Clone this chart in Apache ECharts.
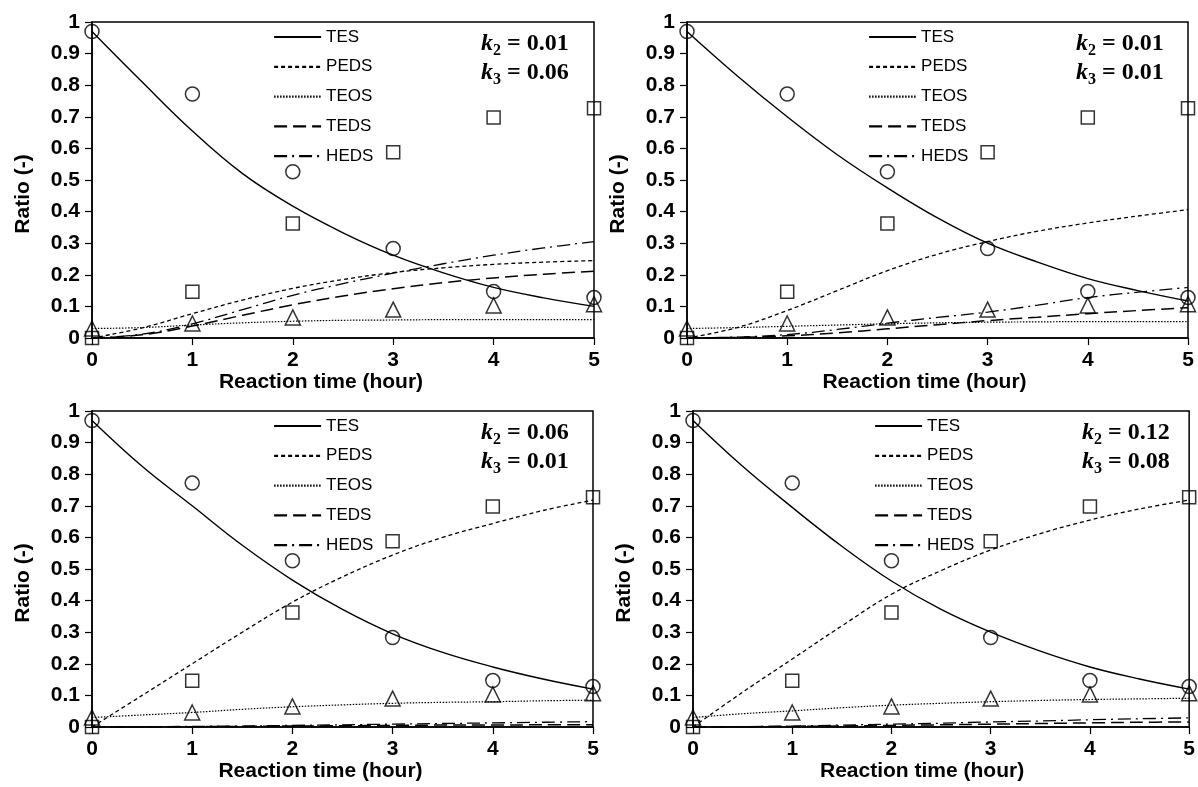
<!DOCTYPE html>
<html><head><meta charset="utf-8">
<script src="https://cdn.jsdelivr.net/npm/echarts@6/dist/echarts.min.js"></script>
<style>html,body{margin:0;padding:0;background:#fff}#c{width:1198px;height:787px}</style>
</head><body><div id="c"></div>
<script>
// ---- Data ----
const hours = [0, 1, 2, 3, 4, 5];
const tesExp  = [0.97, 0.772, 0.526, 0.283, 0.147, 0.128];
const pedsExp = [0.0, 0.146, 0.362, 0.588, 0.698, 0.727];
const teosExp = [0.03, 0.046, 0.065, 0.09, 0.103, 0.107];

const modelTime = [0, 0.5, 1, 1.5, 2, 2.5, 3, 3.5, 4, 4.5, 5];

const seriesNames = ['TES', 'PEDS', 'TEOS', 'TEDS', 'HEDS'];
const k2Labels = ['0.01', '0.01', '0.06', '0.12'];
const k3Labels = ['0.06', '0.01', '0.01', '0.08'];

// Panel 1: k2=0.01, k3=0.06
const p1TES  = [0.97, 0.81, 0.655, 0.52, 0.417, 0.333, 0.262, 0.206, 0.16, 0.127, 0.10];
const p1PEDS = [0, 0.032, 0.077, 0.12, 0.157, 0.185, 0.207, 0.222, 0.233, 0.24, 0.245];
const p1TEOS = [0.03, 0.033, 0.041, 0.048, 0.053, 0.056, 0.057, 0.058, 0.058, 0.058, 0.058];
const p1TEDS = [0, 0.01, 0.038, 0.072, 0.105, 0.133, 0.156, 0.175, 0.19, 0.202, 0.211];
const p1HEDS = [0, 0.012, 0.045, 0.09, 0.135, 0.172, 0.205, 0.235, 0.262, 0.285, 0.305];

// Panel 2: k2=0.01, k3=0.01
const p2TES  = [0.97, 0.83, 0.70, 0.58, 0.475, 0.38, 0.30, 0.24, 0.188, 0.15, 0.117];
const p2PEDS = [0, 0.033, 0.087, 0.15, 0.213, 0.265, 0.305, 0.338, 0.364, 0.386, 0.406];
const p2TEOS = [0.03, 0.033, 0.037, 0.041, 0.045, 0.048, 0.05, 0.051, 0.052, 0.052, 0.052];
const p2TEDS = [0, 0.002, 0.007, 0.016, 0.029, 0.042, 0.055, 0.066, 0.077, 0.087, 0.096];
const p2HEDS = [0, 0.003, 0.011, 0.027, 0.047, 0.065, 0.082, 0.104, 0.128, 0.145, 0.16];

// Panel 3: k2=0.06, k3=0.01
const p3TES  = [0.97, 0.825, 0.70, 0.575, 0.465, 0.372, 0.295, 0.236, 0.19, 0.152, 0.12];
const p3PEDS = [0, 0.10, 0.20, 0.30, 0.395, 0.475, 0.544, 0.60, 0.644, 0.685, 0.718];
const p3TEOS = [0.03, 0.038, 0.046, 0.056, 0.064, 0.07, 0.075, 0.078, 0.08, 0.083, 0.085];
const p3TEDS = [0, 0, 0.001, 0.002, 0.003, 0.004, 0.005, 0.006, 0.006, 0.007, 0.007];
const p3HEDS = [0, 0.001, 0.002, 0.003, 0.005, 0.007, 0.009, 0.011, 0.013, 0.015, 0.017];

// Panel 4: k2=0.12, k3=0.08
const p4TES  = [0.97, 0.825, 0.695, 0.572, 0.462, 0.372, 0.30, 0.24, 0.19, 0.152, 0.12];
const p4PEDS = [0, 0.11, 0.215, 0.32, 0.42, 0.495, 0.56, 0.612, 0.655, 0.69, 0.718];
const p4TEOS = [0.03, 0.042, 0.051, 0.061, 0.069, 0.075, 0.08, 0.084, 0.087, 0.089, 0.091];
const p4TEDS = [0, 0.001, 0.002, 0.003, 0.005, 0.007, 0.009, 0.011, 0.013, 0.015, 0.016];
const p4HEDS = [0, 0.001, 0.003, 0.006, 0.009, 0.012, 0.016, 0.019, 0.023, 0.026, 0.029];

const panels = [
  [p1TES, p1PEDS, p1TEOS, p1TEDS, p1HEDS],
  [p2TES, p2PEDS, p2TEOS, p2TEDS, p2HEDS],
  [p3TES, p3PEDS, p3TEOS, p3TEDS, p3HEDS],
  [p4TES, p4PEDS, p4TEOS, p4TEDS, p4HEDS]
];

// ---- Layout / styles ----
const grids = [
  {left: 92,  top: 22,  width: 502, height: 316},
  {left: 687, top: 22,  width: 501, height: 316},
  {left: 92,  top: 411, width: 501, height: 316},
  {left: 693, top: 411, width: 500, height: 316}
];
const xNamePad = [[0, 44, 0, 0], [0, 26, 0, 0], [0, 44, 0, 0], [0, 38, 0, 0]];
const lineStyles = [
  {type: 'solid', width: 1.4},
  {type: [4, 3], width: 1.3},
  {type: [1.5, 1.5], width: 1.2},
  {type: [13, 6], width: 1.5},
  {type: [13, 5, 2, 5], width: 1.3}
];
const SANS = 'Liberation Sans, Arial, sans-serif';
const SERIF = 'Liberation Serif, Times New Roman, serif';

const xAxes = [], yAxes = [], series = [], legends = [], graphics = [];
grids.forEach((g, i) => {
  xAxes.push({
    type: 'value', gridIndex: i, min: 0, max: 5, interval: 1,
    name: 'Reaction time (hour)', nameLocation: 'middle', nameGap: 27,
    nameTextStyle: {fontFamily: SANS, fontWeight: 'bold', fontSize: 21, color: '#000', padding: xNamePad[i]},
    axisLine: {lineStyle: {color: '#000', width: 1.5}},
    axisTick: {show: true, inside: false, length: 7, lineStyle: {color: '#000', width: 1.2}},
    axisLabel: {fontFamily: SANS, fontWeight: 'bold', fontSize: 21, color: '#000', margin: 12},
    splitLine: {show: false}
  });
  yAxes.push({
    type: 'value', gridIndex: i, min: 0, max: 1, interval: 0.1,
    name: 'Ratio (-)', nameLocation: 'middle', nameGap: 58, nameRotate: 90,
    nameTextStyle: {fontFamily: SANS, fontWeight: 'bold', fontSize: 21, color: '#000', padding: [0, 28, 0, 0]},
    axisLine: {show: true, lineStyle: {color: '#000', width: 1.5}},
    axisTick: {show: true, inside: false, length: 7, lineStyle: {color: '#000', width: 1.2}},
    axisLabel: {fontFamily: SANS, fontWeight: 'bold', fontSize: 21, color: '#000', margin: 12},
    splitLine: {show: false}
  });
  panels[i].forEach((vals, j) => {
    series.push({
      name: seriesNames[j], type: 'line', xAxisIndex: i, yAxisIndex: i,
      data: modelTime.map((t, k) => [t, vals[k]]),
      smooth: 0.4, symbol: 'none', silent: true,
      lineStyle: Object.assign({color: '#000'}, lineStyles[j]),
      itemStyle: {color: '#000'}, z: 2
    });
  });
  const mk = [['TES exp', tesExp, 'circle', 14], ['PEDS exp', pedsExp, 'rect', 13], ['TEOS exp', teosExp, 'triangle', 15]];
  mk.forEach(m => {
    series.push({
      name: m[0], type: 'scatter', xAxisIndex: i, yAxisIndex: i,
      data: hours.map((h, k) => [h, m[1][k]]),
      symbol: m[2], symbolSize: m[3], silent: true,
      itemStyle: {color: 'rgba(255,255,255,0)', borderColor: '#000', borderWidth: 1.5}, z: 3
    });
  });
  legends.push({
    data: seriesNames, orient: 'vertical', left: g.left + 176, top: g.top + 1,
    itemWidth: 47, itemHeight: 14, itemGap: 11.8, selectedMode: false,
    itemStyle: {color: 'rgba(0,0,0,0)', borderWidth: 0, opacity: 0},
    lineStyle: {width: 2.2},
    textStyle: {fontFamily: SANS, fontSize: 17, color: '#000', lineHeight: 18}
  });
  graphics.push({
    type: 'text', left: g.left + 389, top: g.top + 10, silent: true,
    style: {
      text: '{k|k}{s|2}{e| = ' + k2Labels[i] + '}\n{k|k}{s|3}{e| = ' + k3Labels[i] + '}',
      fill: '#000',
      rich: {
        k: {fontFamily: SERIF, fontStyle: 'italic', fontWeight: 'bold', fontSize: 24, lineHeight: 29, verticalAlign: 'middle'},
        s: {fontFamily: SERIF, fontWeight: 'bold', fontSize: 16, lineHeight: 15, verticalAlign: 'bottom'},
        e: {fontFamily: SERIF, fontWeight: 'bold', fontSize: 24, lineHeight: 29, verticalAlign: 'middle'}
      }
    }
  });
});

const chart = echarts.init(document.getElementById('c'), null, {renderer: 'canvas'});
chart.setOption({
  backgroundColor: '#fff',
  animation: false,
  grid: grids.map(g => Object.assign({show: true, borderColor: '#000', borderWidth: 1.5, backgroundColor: 'transparent'}, g)),
  xAxis: xAxes,
  yAxis: yAxes,
  legend: legends,
  series: series,
  graphic: graphics
});
</script>
</body></html>
